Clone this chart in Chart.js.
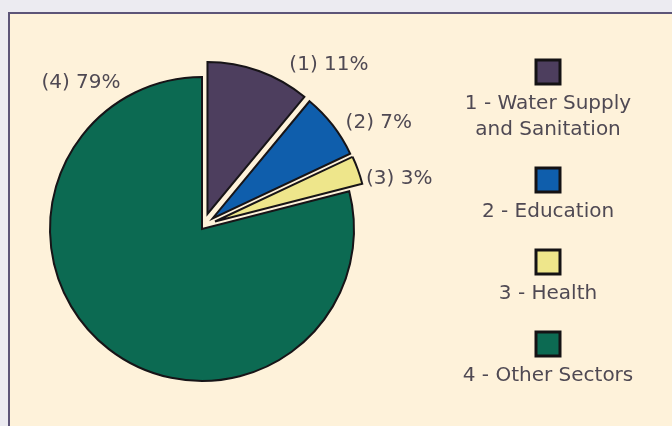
<!DOCTYPE html>
<html>
<head>
<meta charset="utf-8">
<script src="https://cdn.jsdelivr.net/npm/chart.js@4.4.1/dist/chart.umd.min.js"></script>
<style>
  html, body { margin: 0; padding: 0; background: #ecebf1; overflow: hidden; }
  #frame { position: absolute; left: 8px; top: 12px; width: 700px; height: 450px;
           border: 2px solid #5d5578; background: #fef2da; }
  #pie { position: absolute; left: 0; top: 0; }
</style>
</head>
<body>
<div id="frame"></div>
<canvas id="pie" width="672" height="426"></canvas>
<script>
// sector names (split into the lines shown in the key) and their share in percent
const sectors = [['Water Supply', 'and Sanitation'], ['Education'], ['Health'], ['Other Sectors']];
const shares = [11, 7, 3, 79];
const colors = ['#4d3e5e', '#0f5eac', '#eee68b', '#0c6a52'];

const font = '20px "DejaVu Sans", sans-serif';
const textColor = '#4f4953';

// pull the small slices out from the centre: [distance px, direction in degrees from 12 o'clock]
const explode = {
  id: 'explode',
  afterDatasetsUpdate(chart) {
    const pull = [[16, 20], [15, 45], [15, 60], [0, 0]];
    chart.getDatasetMeta(0).data.forEach((arc, i) => {
      const [d, deg] = pull[i];
      const a = deg * Math.PI / 180;
      arc.x += Math.sin(a) * d;
      arc.y -= Math.cos(a) * d;
    });
  }
};

// "(n) xx%" next to each slice
const sliceText = {
  id: 'sliceText',
  afterDatasetsDraw(chart) {
    const ctx = chart.ctx;
    const place = [
      { turn: 9, gap: 18, align: 'left' },
      { turn: 2, gap: 12, align: 'left' },
      { turn: 4, gap: 5, align: 'left' },
      { turn: 113, gap: 15, align: 'right' }
    ];
    ctx.save();
    ctx.font = font;
    ctx.fillStyle = textColor;
    ctx.textBaseline = 'middle';
    chart.getDatasetMeta(0).data.forEach((arc, i) => {
      const p = place[i];
      const a = (arc.startAngle + arc.endAngle) / 2 + p.turn * Math.PI / 180;
      const r = arc.outerRadius + p.gap;
      ctx.textAlign = p.align;
      ctx.fillText(`(${i + 1}) ${shares[i]}%`, arc.x + Math.cos(a) * r, arc.y + Math.sin(a) * r);
    });
    ctx.restore();
  }
};

// key on the right: swatch above each centred name
const sideLegend = {
  id: 'sideLegend',
  afterDraw(chart) {
    const ctx = chart.ctx;
    const cx = 548;
    const s = 24;
    let y = 72;
    ctx.save();
    ctx.font = font;
    ctx.textAlign = 'center';
    ctx.textBaseline = 'middle';
    sectors.forEach((lines, i) => {
      ctx.fillStyle = colors[i];
      ctx.fillRect(cx - s / 2, y - s / 2, s, s);
      ctx.lineWidth = 3;
      ctx.strokeStyle = '#141214';
      ctx.strokeRect(cx - s / 2, y - s / 2, s, s);
      ctx.fillStyle = textColor;
      lines.forEach((line, j) => {
        ctx.fillText(j === 0 ? `${i + 1} - ${line}` : line, cx, y + 32 + j * 26);
      });
      y += 32 + (lines.length - 1) * 26 + 50;
    });
    ctx.restore();
  }
};

new Chart(document.getElementById('pie'), {
  type: 'pie',
  data: {
    labels: sectors.map((l, i) => `${i + 1} - ${l.join(' ')}`),
    datasets: [{
      data: shares,
      backgroundColor: colors,
      borderColor: '#171417',
      borderWidth: 2,
      borderJoinStyle: 'miter',
      hoverOffset: 0
    }]
  },
  options: {
    responsive: false,
    animation: false,
    devicePixelRatio: 1,
    radius: 152,
    layout: { padding: { top: 32, right: 268, bottom: 0, left: 0 } },
    events: [],
    plugins: {
      legend: { display: false },
      tooltip: { enabled: false }
    }
  },
  plugins: [explode, sliceText, sideLegend]
});
</script>
</body>
</html>
